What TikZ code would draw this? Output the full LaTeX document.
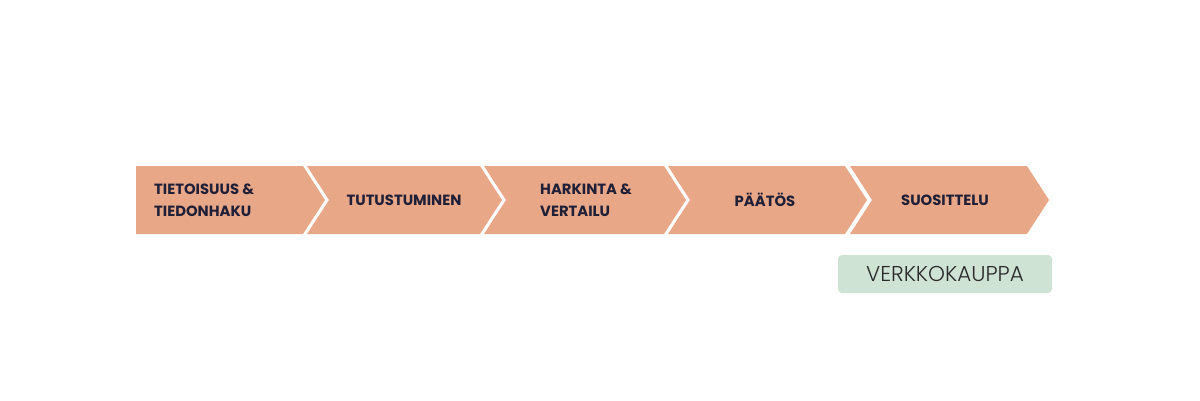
\documentclass[tikz,border=0pt]{standalone}
\usepackage{fontspec}
\setmainfont{Poppins}
\newfontfamily\poplight{Poppins Light}
\definecolor{peach}{HTML}{E8A787}
\definecolor{navy}{HTML}{1F1F38}
\definecolor{mint}{HTML}{CFE3D5}
\definecolor{greytext}{HTML}{2A2A2A}
\begin{document}
\begin{tikzpicture}[x=1pt,y=-1pt,
  chev/.style={fill=peach,draw=none},
  lbl/.style={text=navy,font=\bfseries\fontsize{14.8}{22.5}\selectfont,inner sep=0pt},
  lbll/.style={lbl,align=left,anchor=west},
  shop/.style={fill=mint,rounded corners=4pt,draw=none,minimum width=214pt,minimum height=38pt,
    text=greytext,font=\poplight\fontsize{21.5}{24}\selectfont,inner sep=0pt}]
\useasboundingbox (0,0) rectangle (1200,400);
\fill[chev] (136,166) -- (303,166) -- (325,200) -- (303,234) -- (136,234) -- cycle;
\fill[chev] (307,166) -- (480,166) -- (502,200) -- (480,234) -- (307,234) -- (329,200) -- cycle;
\fill[chev] (484,166) -- (664,166) -- (686,200) -- (664,234) -- (484,234) -- (506,200) -- cycle;
\fill[chev] (668,166) -- (845,166) -- (867,200) -- (845,234) -- (668,234) -- (690,200) -- cycle;
\fill[chev] (850,166) -- (1027,166) -- (1049,200) -- (1027,234) -- (850,234) -- (872,200) -- cycle;
\node[lbll] (s1) at (154,200) {TIETOISUUS \&\\TIEDONHAKU};
\node[lbl] (s2) at (404,200) {TUTUSTUMINEN};
\node[lbll] (s3) at (540,200) {HARKINTA \&\\VERTAILU};
\node[lbl] (s4) at (765,200) {PÄÄTÖS};
\node[lbl] (s5) at (945,200) {SUOSITTELU};
\node[shop] (shop) at (945,274) {VERKKOKAUPPA};
\end{tikzpicture}
\end{document}
